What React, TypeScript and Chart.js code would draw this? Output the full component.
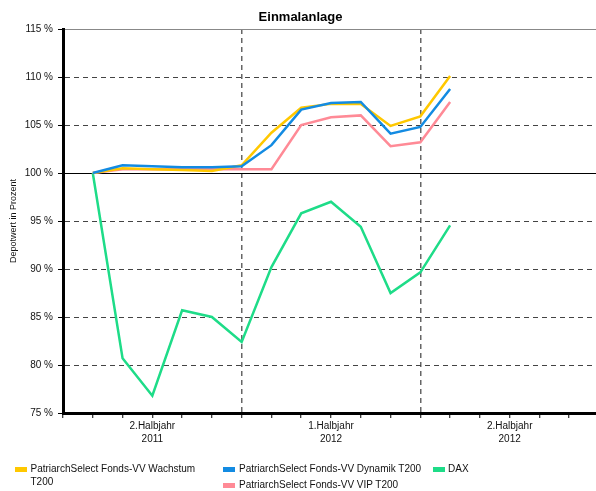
import React, { useEffect, useRef } from 'react';
import { Chart, registerables } from 'chart.js';

Chart.register(...registerables);

// month boundaries on the x axis (Jul 2011 .. Jan 2013)
const months = [
  'Jul 2011', 'Aug 2011', 'Sep 2011', 'Okt 2011', 'Nov 2011', 'Dez 2011',
  'Jan 2012', 'Feb 2012', 'Mär 2012', 'Apr 2012', 'Mai 2012', 'Jun 2012',
  'Jul 2012', 'Aug 2012', 'Sep 2012', 'Okt 2012', 'Nov 2012', 'Dez 2012',
  'Jan 2013',
];
const periodLabels = [
  ['2.Halbjahr', '2011'],
  ['1.Halbjahr', '2012'],
  ['2.Halbjahr', '2012'],
];
const yMin = 75;
const yMax = 115;
const yStep = 5;

const wachstum = [null, 100, 100.5, 100.4, 100.3, 100.2, 100.8, 104.2, 106.8, 107.2, 107.2, 104.9, 105.9, 110.1];
const dynamik = [null, 100, 100.8, 100.7, 100.6, 100.6, 100.7, 102.9, 106.6, 107.3, 107.4, 104.1, 104.8, 108.75];
const vip = [null, 100, 100.4, 100.4, 100.4, 100.4, 100.4, 100.4, 105.0, 105.8, 106.0, 102.8, 103.2, 107.4];
const dax = [null, 100, 80.7, 76.8, 85.7, 85.0, 82.4, 90.2, 95.8, 97.0, 94.4, 87.5, 89.65, 94.55];

const seriesNames = [
  'PatriarchSelect Fonds-VV Wachstum T200',
  'PatriarchSelect Fonds-VV Dynamik T200',
  'DAX',
  'PatriarchSelect Fonds-VV VIP T200',
];
const colors = {
  wachstum: '#FFC800',
  dynamik: '#138BE2',
  dax: '#1EDC88',
  vip: '#FF8A96',
};

const FONT = '"Liberation Sans", Arial, Helvetica, sans-serif';

export default function App() {
  const canvasRef = useRef<HTMLCanvasElement | null>(null);

  useEffect(() => {
    const canvas = canvasRef.current;
    if (!canvas) return;
    const chart = new Chart(canvas, {
      type: 'line',
      data: {
        labels: months,
        datasets: [
          { label: seriesNames[1], data: dynamik, borderColor: colors.dynamik, backgroundColor: colors.dynamik },
          { label: seriesNames[0], data: wachstum, borderColor: colors.wachstum, backgroundColor: colors.wachstum },
          { label: seriesNames[3], data: vip, borderColor: colors.vip, backgroundColor: colors.vip },
          { label: seriesNames[2], data: dax, borderColor: colors.dax, backgroundColor: colors.dax },
        ].map((d) => ({ ...d, borderWidth: 2.5, pointRadius: 0, tension: 0, fill: false, spanGaps: false })),
      },
      options: {
        responsive: false,
        animation: false,
        events: [],
        layout: { padding: 0 },
        plugins: {
          legend: { display: false },
          tooltip: { enabled: false },
          title: {
            display: true,
            text: 'Einmalanlage',
            color: '#000',
            font: { family: FONT, size: 13, weight: 'bold', lineHeight: 1.2 },
            padding: { top: 10, bottom: 3.4 },
          },
        },
        scales: {
          x: {
            type: 'category',
            offset: false,
            grid: {
              drawOnChartArea: true,
              color: (ctx: any) => (ctx.index === 6 || ctx.index === 12 ? '#666' : 'rgba(0,0,0,0)'),
              lineWidth: 1.5,
              tickLength: 5,
              tickColor: '#000',
              tickWidth: 1,
            },
            border: { display: true, color: '#000', width: 3, dash: [5, 4] },
            ticks: {
              autoSkip: false,
              maxRotation: 0,
              padding: 2,
              color: '#111',
              font: { family: FONT, size: 10, lineHeight: 1.25 },
              callback: (_v: any, index: number) =>
                index % 6 === 3 ? periodLabels[(index - 3) / 6] : '',
            },
            afterFit: (scale: any) => {
              scale.height = 78;
            },
          },
          y: {
            min: yMin,
            max: yMax,
            grid: {
              color: (ctx: any) => {
                const v = ctx.tick?.value;
                if (v === 100) return '#000';
                if (v === yMax) return '#888';
                return '#444';
              },
              lineWidth: 1,
              tickLength: 5,
              tickColor: '#000',
              tickWidth: 1,
            },
            border: {
              display: true,
              color: '#000',
              width: 3,
              dash: (ctx: any) => {
                const v = ctx.tick?.value;
                return v === 100 || v === yMax ? [] : [5, 4];
              },
            },
            ticks: {
              stepSize: yStep,
              padding: 5,
              color: '#111',
              font: { family: FONT, size: 10 },
              callback: (v: any) => `${v} %`,
            },
            title: {
              display: true,
              text: 'Depotwert in Prozent',
              color: '#111',
              font: { family: FONT, size: 9, lineHeight: 1.2 },
              padding: { top: 8, bottom: 0 },
            },
            afterFit: (scale: any) => {
              scale.width = 63;
            },
          },
        },
      } as any,
    });
    return () => chart.destroy();
  }, []);

  const legendText: React.CSSProperties = {
    position: 'absolute',
    fontFamily: FONT,
    fontSize: 10,
    lineHeight: '12.5px',
    color: '#111',
    whiteSpace: 'nowrap',
  };
  const swatch = (left: number, top: number, color: string): React.CSSProperties => ({
    position: 'absolute',
    left,
    top,
    width: 12,
    height: 5,
    background: color,
  });

  return (
    <div
      style={{
        position: 'fixed',
        left: 0,
        top: 0,
        width: 596,
        height: 491,
        overflow: 'hidden',
        background: '#fff',
      }}
    >
      <canvas ref={canvasRef} width={601} height={491} style={{ display: 'block' }} />
      <div style={swatch(15, 466.5, colors.wachstum)} />
      <div style={{ ...legendText, left: 30.5, top: 463 }}>
        PatriarchSelect Fonds-VV Wachstum
        <br />
        T200
      </div>
      <div style={swatch(223, 466.5, colors.dynamik)} />
      <div style={{ ...legendText, left: 239, top: 463 }}>{seriesNames[1]}</div>
      <div style={swatch(433, 466.5, colors.dax)} />
      <div style={{ ...legendText, left: 448, top: 463 }}>{seriesNames[2]}</div>
      <div style={swatch(223, 482.5, colors.vip)} />
      <div style={{ ...legendText, left: 239, top: 479 }}>{seriesNames[3]}</div>
    </div>
  );
}
